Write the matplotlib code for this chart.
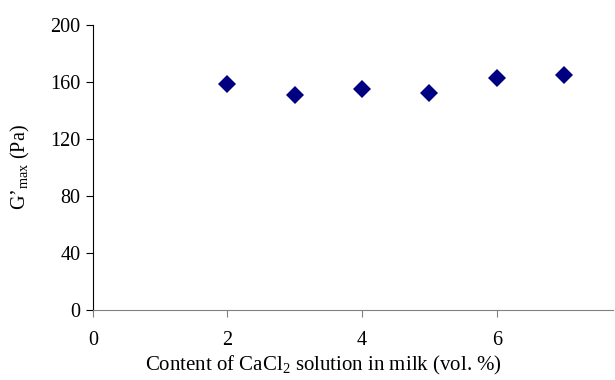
import numpy as np
import matplotlib.pyplot as plt

plt.rcParams['font.family'] = 'Liberation Serif'
plt.rcParams['mathtext.fontset'] = 'custom'
plt.rcParams['mathtext.rm'] = 'Liberation Serif'
plt.rcParams['mathtext.it'] = 'Liberation Serif:italic'

# CaCl2 content (vol. %) and G'max (Pa)
cacl2 = [2, 3, 4, 5, 6, 7]
g_max = [158.4, 151.0, 155.3, 152.1, 162.6, 164.7]

x_ticks = [0, 2, 4, 6]
y_ticks = [0, 40, 80, 120, 160, 200]

fig = plt.figure(figsize=(6.15, 3.8), dpi=100)
ax = fig.add_axes([0.151, 0.184, 0.846, 0.750])

ax.plot(cacl2, g_max, 'D', color='#000080', markersize=9.5, markeredgewidth=0)

ax.set_xlim(0, 7.73)
ax.set_ylim(0, 200)
ax.set_xticks(x_ticks)
ax.set_yticks(y_ticks)

for s in ['top', 'right']:
    ax.spines[s].set_visible(False)
ax.spines['bottom'].set_color('#808080')
ax.spines['left'].set_color('black')
ax.tick_params(axis='x', colors='#808080', labelcolor='black', direction='out', length=5, labelsize=14.5, pad=10)
ax.tick_params(axis='y', direction='out', length=5, labelsize=14.5, pad=4)

ax.set_xlabel('Content of CaCl$_2$ solution in milk (vol. %)', fontsize=15)
ax.set_ylabel('G’$_{\\mathrm{max}}$ (Pa)', fontsize=14.5)
ax.xaxis.set_label_coords(0.443, -0.155)
ax.yaxis.set_label_coords(-0.117, 0.5)

fig.savefig('out.png', dpi=100)
